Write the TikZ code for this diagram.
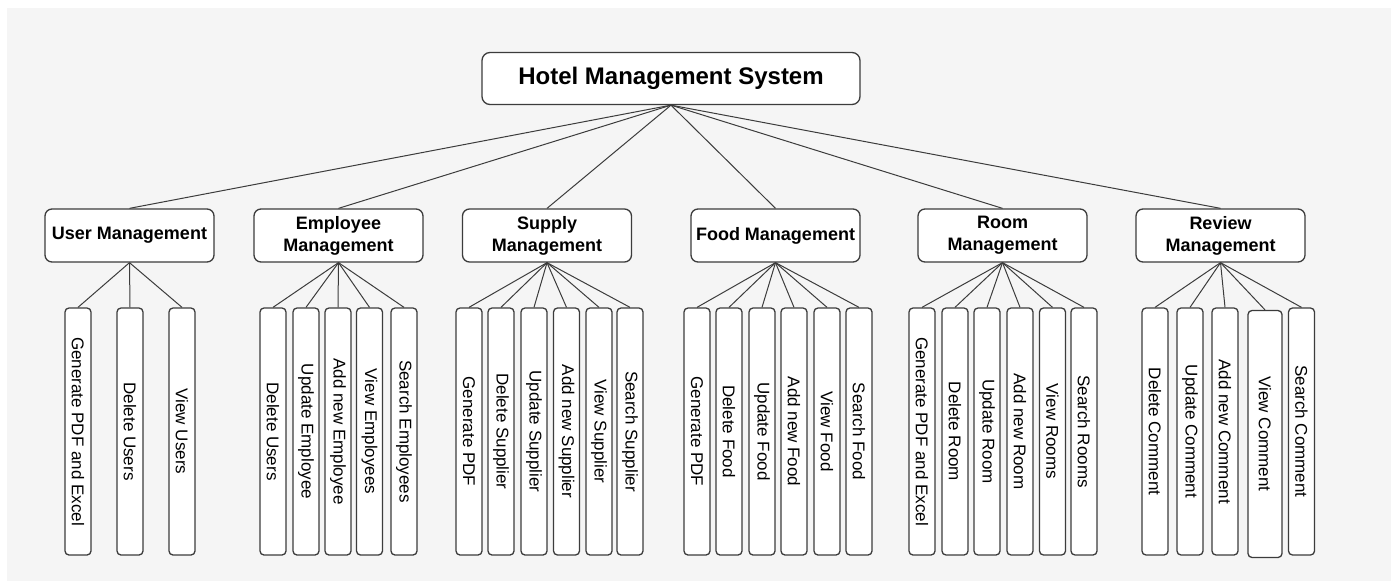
\documentclass[tikz,border=0pt]{standalone}
\usepackage{fontspec}
\setmainfont{Liberation Sans}
\definecolor{bgcol}{HTML}{F5F5F5}
\definecolor{linecol}{HTML}{3C3C3C}
\tikzset{
  sysbox/.style={draw=linecol,line width=1.3pt,rounded corners=8pt,fill=white,
    minimum width=378pt,minimum height=52pt,inner sep=0pt,
    font=\fontsize{24}{28}\selectfont\bfseries},
  modbox/.style={draw=linecol,line width=1.3pt,rounded corners=7pt,fill=white,
    minimum width=169pt,minimum height=53pt,inner sep=0pt,align=center,
    font=\fontsize{18}{22}\selectfont\bfseries},
  funcbox/.style={draw=linecol,line width=1.3pt,rounded corners=4pt,fill=white,
    minimum width=26pt,minimum height=247pt,inner sep=0pt,
    font=\fontsize{17}{20}\selectfont},
  link/.style={draw=linecol,line width=1pt}
}
\begin{document}
\begin{tikzpicture}[x=1pt,y=-1pt]
\useasboundingbox (0,0) rectangle (1391,581);
\fill[bgcol] (7,8) rectangle (1391,581);

% top level
\node[sysbox] (hms) at (671,78.5) {Hotel Management System};

% modules
\node[modbox] (user) at (129.5,235.5) {User Management};
\node[modbox] (employee) at (338.5,235.5) {Employee\\Management};
\node[modbox] (supply) at (547,235.5) {Supply\\Management};
\node[modbox] (food) at (775.5,235.5) {Food Management};
\node[modbox] (room) at (1002.5,235.5) {Room\\Management};
\node[modbox] (review) at (1220.5,235.5) {Review\\Management};

\foreach \m in {user,employee,supply,food,room,review}
  \draw[link] (hms.south) -- (\m.north);

% functions
\foreach \x/\lbl [count=\i] in {78/Generate PDF and Excel,130/Delete Users,182/View Users}{
  \node[funcbox] (user\i) at (\x,431.5) {\rotatebox{-90}{\lbl}};
  \draw[link] (user.south) -- (user\i.north);
}
\foreach \x/\lbl [count=\i] in {273/Delete Users,306/Update Employee,338/Add new Employee,
    369.5/View Employees,404/Search Employees}{
  \node[funcbox] (employee\i) at (\x,431.5) {\rotatebox{-90}{\lbl}};
  \draw[link] (employee.south) -- (employee\i.north);
}
\foreach \x/\lbl [count=\i] in {469/Generate PDF,501/Delete Supplier,534/Update Supplier,
    566.5/Add new Supplier,599/View Supplier,630/Search Supplier}{
  \node[funcbox] (supply\i) at (\x,431.5) {\rotatebox{-90}{\lbl}};
  \draw[link] (supply.south) -- (supply\i.north);
}
\foreach \x/\lbl [count=\i] in {697/Generate PDF,729/Delete Food,762/Update Food,
    794/Add new Food,827/View Food,859/Search Food}{
  \node[funcbox] (food\i) at (\x,431.5) {\rotatebox{-90}{\lbl}};
  \draw[link] (food.south) -- (food\i.north);
}
\foreach \x/\lbl [count=\i] in {922/Generate PDF and Excel,955/Delete Room,987/Update Room,
    1020/Add new Room,1052.5/View Rooms,1084/Search Rooms}{
  \node[funcbox] (room\i) at (\x,431.5) {\rotatebox{-90}{\lbl}};
  \draw[link] (room.south) -- (room\i.north);
}
\foreach \x/\w/\y/\lbl [count=\i] in {1155/26/431.5/Delete Comment,1190/26/431.5/Update Comment,
    1225/26/431.5/Add new Comment,1265/34/434/View Comment,1301.5/26/431.5/Search Comment}{
  \node[funcbox,minimum width=\w pt] (review\i) at (\x,\y) {\rotatebox{-90}{\lbl}};
  \draw[link] (review.south) -- (review\i.north);
}
\end{tikzpicture}
\end{document}
